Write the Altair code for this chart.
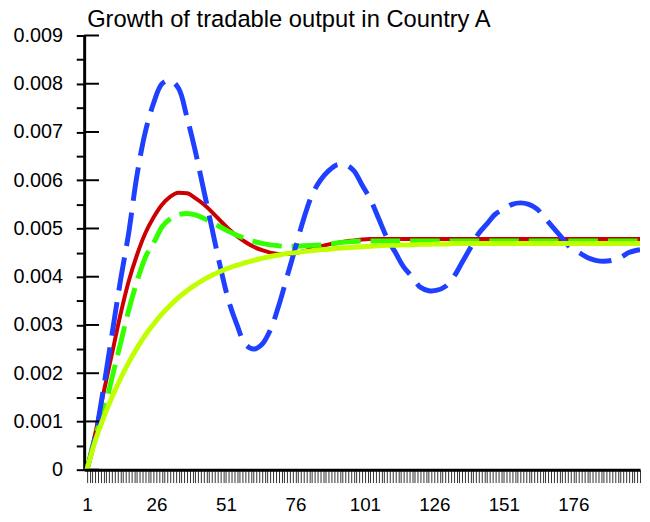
import altair as alt
import pandas as pd

# ---- data ----
periods = [1, 4, 7, 10, 13, 16, 19, 22, 25, 28, 31, 34, 37, 40, 43, 46, 49, 52, 55, 58,
           61, 64, 67, 70, 73, 76, 79, 82, 85, 88, 91, 94, 97, 100, 103, 106, 109, 112, 115, 118,
           121, 124, 127, 130, 133, 136, 139, 142, 145, 148, 151, 154, 157, 160, 163, 166, 169, 172, 175, 178,
           181, 184, 187, 190, 193, 196, 199, 200]

blue_vals = [0.0000, 0.0007, 0.0017, 0.0028, 0.0039, 0.0049, 0.0061, 0.0070, 0.0076, 0.0080,
             0.00807, 0.0079, 0.0073, 0.0066, 0.0058, 0.0050, 0.0042, 0.0035, 0.0030, 0.0026,
             0.0025, 0.0026, 0.0029, 0.0034, 0.0040, 0.0046, 0.0052, 0.0057, 0.0060, 0.0062,
             0.00632, 0.00632, 0.0062, 0.0059, 0.0056, 0.0052, 0.0048, 0.0045, 0.0042, 0.0040,
             0.00378, 0.00371, 0.00372, 0.0038, 0.0040, 0.0043, 0.0046, 0.0049, 0.0051, 0.0053,
             0.0054, 0.0055, 0.00553, 0.0055, 0.0054, 0.0052, 0.0050, 0.0048, 0.0046, 0.0045,
             0.0044, 0.00434, 0.00432, 0.00434, 0.0044, 0.0045, 0.00455, 0.00456]

red_vals = [0.0000, 0.00075, 0.0016, 0.0024, 0.0032, 0.0039, 0.00445, 0.0049, 0.00523, 0.00549,
            0.00566, 0.00574, 0.00573, 0.00563, 0.0055, 0.00534, 0.00516, 0.00499, 0.00484, 0.00472,
            0.00462, 0.00455, 0.0045, 0.00447, 0.00447, 0.00449, 0.00453, 0.00458, 0.00463, 0.00467,
            0.0047, 0.00473, 0.00475, 0.00477, 0.00478, 0.00478, 0.00478, 0.00478, 0.00478, 0.00478,
            0.00478, 0.00478, 0.00478, 0.00478, 0.00478, 0.00478, 0.00478, 0.00478, 0.00478, 0.00478,
            0.00478, 0.00478, 0.00478, 0.00478, 0.00478, 0.00478, 0.00478, 0.00478, 0.00478, 0.00478,
            0.00478, 0.00478, 0.00478, 0.00478, 0.00478, 0.00478, 0.00478, 0.00478]

green_vals = [0.0000, 0.0007, 0.0012, 0.0019, 0.0026, 0.0033, 0.0039, 0.0044, 0.0047, 0.00503,
              0.0052, 0.00529, 0.00531, 0.00528, 0.00521, 0.00512, 0.00503, 0.00494, 0.00486, 0.00479,
              0.00473, 0.00469, 0.00466, 0.00464, 0.00463, 0.00463, 0.00464, 0.00465, 0.00466, 0.00468,
              0.0047, 0.00472, 0.00473, 0.00474, 0.00474, 0.00474, 0.00474, 0.00474, 0.00474, 0.00474,
              0.00474, 0.00474, 0.00474, 0.00474, 0.00474, 0.00474, 0.00474, 0.00474, 0.00474, 0.00474,
              0.00474, 0.00474, 0.00474, 0.00474, 0.00474, 0.00474, 0.00474, 0.00474, 0.00474, 0.00474,
              0.00474, 0.00474, 0.00474, 0.00474, 0.00474, 0.00474, 0.00474, 0.00474]

yellow_vals = [0.0000, 0.0006, 0.00108, 0.0015, 0.00188, 0.00222, 0.00252, 0.00279, 0.00302, 0.00323,
               0.00341, 0.00357, 0.00371, 0.00383, 0.00394, 0.00403, 0.00411, 0.00418, 0.00424, 0.00429,
               0.00434, 0.00438, 0.00442, 0.00445, 0.00448, 0.0045, 0.00452, 0.00454, 0.00456, 0.00457,
               0.00459, 0.0046, 0.00461, 0.00462, 0.00463, 0.00464, 0.00465, 0.00465, 0.00466, 0.00466,
               0.00467, 0.00467, 0.00468, 0.00468, 0.00469, 0.00469, 0.00469, 0.00469, 0.00469, 0.00469,
               0.00469, 0.00469, 0.00469, 0.00469, 0.00469, 0.00469, 0.00469, 0.00469, 0.00469, 0.00469,
               0.00469, 0.00469, 0.00469, 0.00469, 0.00469, 0.00469, 0.00469, 0.00469]

y_major = [0.0, 0.001, 0.002, 0.003, 0.004, 0.005, 0.006, 0.007, 0.008, 0.009]
y_minor = [0.0005, 0.0015, 0.0025, 0.0035, 0.0045, 0.0055, 0.0065, 0.0075, 0.0085]
y_major_labels = ["0", "0.001", "0.002", "0.003", "0.004", "0.005", "0.006", "0.007", "0.008", "0.009"]
x_label_periods = [1, 26, 51, 76, 101, 126, 151, 176]
x_tick_periods = list(range(1, 201))

title_text = "Growth of tradable output in Country A"
FONT = "Liberation Sans"

# ---- scales ----
xscale = alt.Scale(domain=[0, 200], nice=False, zero=False)
yscale = alt.Scale(domain=[0, 0.009], nice=False)

y_ticks_all = sorted(y_major + y_minor)
major_keys = [round(v * 10000) for v in y_major]
y_label_expr = (
    "indexof([" + ",".join(str(k) for k in major_keys) + "], round(datum.value*10000)) >= 0 ? "
    "(datum.value == 0 ? '0' : format(datum.value, '.3f')) : ''"
)
x_label_expr = "indexof([" + ",".join(str(p) for p in x_label_periods) + "], datum.value) >= 0 ? datum.label : ''"

x_axis = alt.Axis(values=x_tick_periods, tickCount=400, format="d", labelExpr=x_label_expr,
                  labelOverlap=False, labelFlush=False, labelBound=False, tickSize=13, tickWidth=1,
                  tickColor="#333333", domainColor="black", domainWidth=3, labelFont=FONT,
                  labelFontSize=19, labelColor="black", labelPadding=13, grid=False, title=None)
y_axis = alt.Axis(values=y_ticks_all, tickCount=100, labelExpr=y_label_expr, labelOverlap=False,
                  labelFlush=False, labelBound=False, tickSize=8, tickWidth=2, tickColor="black",
                  domainColor="black", domainWidth=3, labelFont=FONT, labelFontSize=20,
                  labelColor="black", labelPadding=14, grid=False, title=None)


def series_df(vals):
    return pd.DataFrame({"t": periods, "v": vals})


def line_layer(vals, color, width, dash=None, axes=False, interp="monotone"):
    kw = dict(color=color, strokeWidth=width, interpolate=interp, clip=True)
    if dash:
        kw["strokeDash"] = dash
    if axes:
        x = alt.X("t:Q", scale=xscale, axis=x_axis)
        y = alt.Y("v:Q", scale=yscale, axis=y_axis)
    else:
        x = alt.X("t:Q", scale=xscale)
        y = alt.Y("v:Q", scale=yscale)
    return alt.Chart(series_df(vals)).mark_line(**kw).encode(x=x, y=y)


red = line_layer(red_vals, "#cc0000", 4, axes=True)
green = line_layer(green_vals, "#33ff00", 5, dash=[30, 10])
blue = line_layer(blue_vals, "#1f40ff", 5, dash=[34, 12], interp="catmull-rom")
yellow = line_layer(yellow_vals, "#c0ff00", 5)

inner_ticks = alt.Chart(pd.DataFrame({"v": y_major})).mark_rule(color="black", strokeWidth=2).encode(
    y=alt.Y("v:Q", scale=yscale),
    x=alt.value(0),
    x2=alt.value(15),
)

chart = alt.layer(red, green, blue, yellow, inner_ticks).properties(
    width=562,
    height=439,
    autosize=alt.AutoSizeParams(type="none"),
    padding={"left": 77, "top": 25, "right": 2, "bottom": 42},
    title=alt.TitleParams(title_text, anchor="start", frame="group", fontSize=24, font=FONT,
                          fontWeight="normal", color="black", offset=5, baseline="alphabetic",
                          dx=3, dy=30),
    background="white",
).configure_view(stroke=None)

chart.save("out.html", embed_options={"renderer": "svg", "actions": False})
